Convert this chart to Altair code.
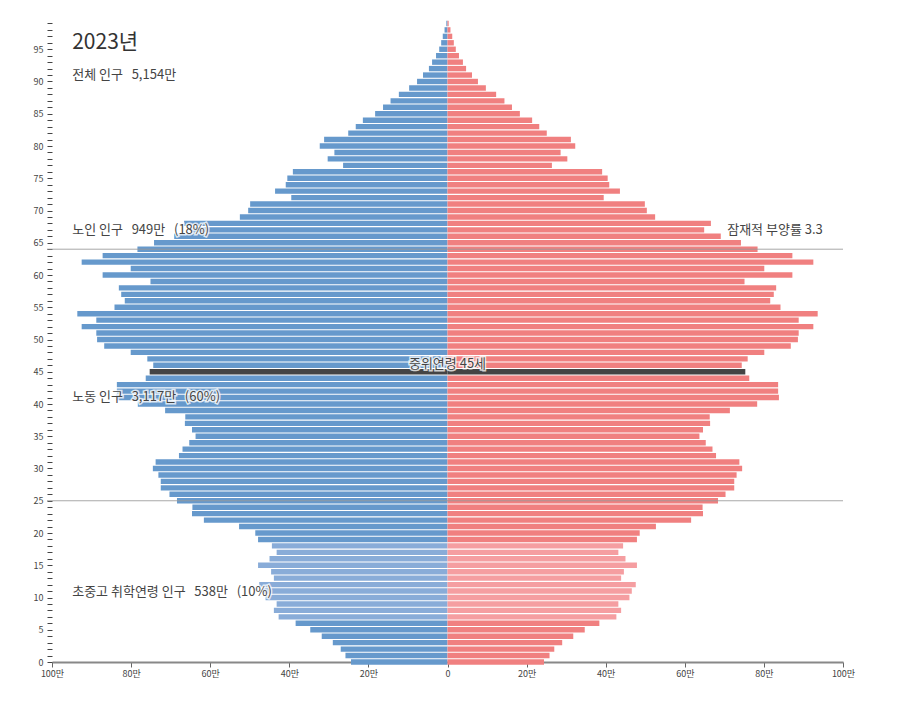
import pandas as pd
import altair as alt

font = "Noto Sans CJK KR"
W = 791
H = 645

# 만 명, age 0..99 (same on both sides)
ages = list(range(100))
population = [
    24.4, 25.8, 27.0, 29.0, 31.8, 34.7, 38.4, 42.7, 43.9, 43.2,
    46.0, 46.6, 47.6, 43.9, 44.6, 47.9, 45.0, 43.2, 44.4, 47.9,
    48.6, 52.7, 61.6, 64.6, 64.5, 68.4, 70.3, 72.5, 72.5, 73.1,
    74.5, 73.8, 67.9, 67.0, 65.3, 63.7, 64.6, 66.4, 66.3, 71.4,
    78.3, 83.8, 83.6, 83.6, 76.3, 75.3, 74.4, 75.9, 80.1, 86.8,
    88.6, 88.8, 92.5, 88.8, 93.6, 84.2, 81.6, 82.5, 83.1, 75.1,
    87.2, 80.1, 92.5, 87.2, 78.4, 74.2, 69.1, 64.9, 66.6, 52.5,
    50.4, 49.9, 39.5, 43.6, 40.9, 40.5, 39.1, 26.4, 30.3, 28.6,
    32.3, 31.2, 25.1, 23.2, 21.4, 18.3, 16.3, 14.4, 12.3, 9.7,
    7.7, 6.2, 4.7, 3.9, 2.9, 2.1, 1.6, 1.2, 0.75, 0.3,
]
school_first, school_last = 7, 18
median_age = 45
boundary_ages = [25, 64]

groups = ["left", "right", "left_school", "right_school", "median"]
group_colors = ["#6699cc", "#f08080", "#89acd8", "#f59ea1", "#444444"]

title_text = "2023년"
total_text = "전체 인구\u00a0\u00a0\u00a05,154만"
elder_text = "노인 인구\u00a0\u00a0\u00a0949만\u00a0\u00a0\u00a0(18%)"
ratio_text = "잠재적 부양률 3.3"
median_text = "중위연령 45세"
labor_text = "노동 인구\u00a0\u00a0\u00a03,117만\u00a0\u00a0\u00a0(60%)"
school_text = "초중고 취학연령 인구\u00a0\u00a0\u00a0538만\u00a0\u00a0\u00a0(10%)"

rows = []
for age, v in zip(ages, population):
    if age == median_age:
        gl, gr = "median", "median"
    elif school_first <= age <= school_last:
        gl, gr = "left_school", "right_school"
    else:
        gl, gr = "left", "right"
    rows.append({"age": age, "x1": -v, "x2": 0, "grp": gl})
    rows.append({"age": age, "x1": 0, "x2": v, "grp": gr})
df = pd.DataFrame(rows)

x_axis = alt.Axis(
    values=list(range(-100, 101, 20)),
    labelExpr="datum.value == 0 ? '0' : abs(datum.value) + '만'",
    title=None, grid=False, tickSize=5, tickColor="#666", labelFlush=False,
    domainColor="#888", domainWidth=2, labelFontSize=9,
    labelColor="#444", labelFont=font)
# tickCount high so vega does not thin the per-year ticks
y_axis = alt.Axis(
    values=ages, tickCount=200,
    labelExpr="datum.value % 5 === 0 ? datum.value : ''",
    labelOverlap=False, labelFlush=False,
    title=None, grid=False, domain=False, tickSize=5, tickColor="#444",
    labelPadding=4, labelFontSize=9, labelColor="#444", labelFont=font)

bars = alt.Chart(df).mark_bar(orient="horizontal", size=5.4).encode(
    y=alt.Y("age:Q", scale=alt.Scale(domain=[0, 100], nice=False, padding=0), axis=y_axis),
    x=alt.X("x1:Q", scale=alt.Scale(domain=[-100, 100], nice=False, padding=0), axis=x_axis),
    x2="x2:Q",
    color=alt.Color("grp:N", scale=alt.Scale(domain=groups, range=group_colors), legend=None),
)

rules = alt.Chart(pd.DataFrame({"age": boundary_ages})).mark_rule(
    color="#999", strokeWidth=1, opacity=0.85).encode(
    y="age:Q", x=alt.value(-5), x2=alt.value(W))


def label(text, x, y, size=13, align="left", color="#444"):
    halo = alt.Chart().mark_text(
        text=text, font=font, fontSize=size, align=align, baseline="middle",
        fill="white", stroke="white", strokeWidth=3, strokeOpacity=0.75
    ).encode(x=alt.datum(x), y=alt.datum(y))
    top = alt.Chart().mark_text(
        text=text, font=font, fontSize=size, align=align, baseline="middle",
        color=color
    ).encode(x=alt.datum(x), y=alt.datum(y))
    return [halo, top]


texts = []
texts += label(title_text, -94.9, 96.0, size=21, color="#333")
texts += label(total_text, -94.9, 91.0)
texts += label(elder_text, -94.9, 67.0)
texts += label(ratio_text, 94.9, 67.0, align="right")
texts += label(median_text, 0, 46.2, align="center")
texts += label(labor_text, -94.9, 41.1)
texts += label(school_text, -94.9, 10.9)

chart = alt.layer(bars, rules, *texts).properties(
    width=W, height=H,
    autosize=alt.AutoSizeParams(type="none"),
    padding={"left": 44, "top": 9, "right": 40, "bottom": 30},
).configure_view(stroke=None)

chart.save("out.html", embed_options={"renderer": "svg", "actions": False})
